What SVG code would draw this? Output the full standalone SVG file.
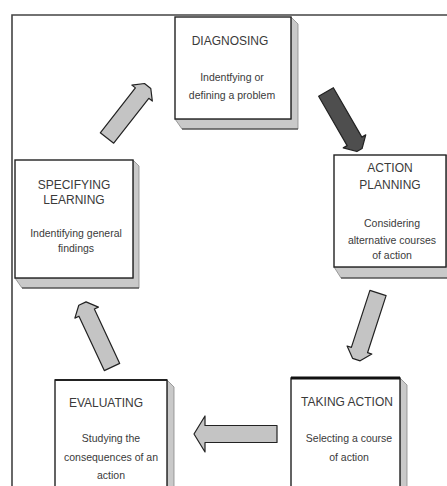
<svg xmlns="http://www.w3.org/2000/svg" width="447" height="486" viewBox="0 0 447 486">
<style>
.frame{fill:none;stroke:#444;stroke-width:1.6}
.box{fill:#fff;stroke:#222;stroke-width:1.4}
.shadow{fill:#c9c9c9;stroke:#888;stroke-width:0.8}
.title{font-family:"Liberation Sans",Arial,sans-serif;font-size:12px;fill:#3a3a3a;text-anchor:middle}
.desc{font-family:"Liberation Sans",Arial,sans-serif;font-size:10.5px;fill:#3a3a3a;text-anchor:middle}
.arrow{fill:#c4c4c4;stroke:#222;stroke-width:1.2;stroke-linejoin:round}
.arrow.dark{fill:#4e4e4e}
</style>
<rect width="447" height="486" fill="#fff"/>
<path class="frame" d="M12,486 L12,15 L447,15"/>

<g id="connectors">
  <path class="arrow" transform="translate(107,138) rotate(-52)" d="M0,-8.5 L57,-8.5 L57,-13 L66,-4 L66,4 L57,13 L57,8.5 L0,8.5 Z"/>
  <path class="arrow dark" transform="translate(326,92) rotate(60)" d="M0,-8.5 L57,-8.5 L57,-13 L67,-3 L67,3 L57,13 L57,8.5 L0,8.5 Z"/>
  <path class="arrow" transform="translate(378,293) rotate(108)" d="M0,-8.5 L60,-8.5 L60,-13 L70,-4 L70,4 L60,13 L60,8.5 L0,8.5 Z"/>
  <path class="arrow" transform="translate(277,434) rotate(180)" d="M0,-8.5 L72,-8.5 L72,-18 L83,0 L72,18 L72,8.5 L0,8.5 Z"/>
  <path class="arrow" transform="translate(112,367) rotate(-115)" d="M0,-8.5 L60,-8.5 L60,-13 L70,-4 L70,4 L60,13 L60,8.5 L0,8.5 Z"/>
</g>

<g id="diagnosing">
  <polygon class="shadow" points="291,17 298,24 298,129 182,129 175,119 291,119"/>
  <line x1="182" y1="129" x2="298" y2="129" stroke="#333" stroke-width="1"/>
  <rect class="box" x="175" y="17" width="116" height="102"/>
  <text class="title" x="230" y="45">DIAGNOSING</text>
  <text class="desc" x="232" y="81">Indentfying or</text>
  <text class="desc" x="232" y="99">defining a problem</text>
</g>

<g id="specifying-learning">
  <polygon class="shadow" points="133,160 139,166 139,288 22,288 15,278 133,278"/>
  <line x1="22" y1="288" x2="139" y2="288" stroke="#333" stroke-width="1"/>
  <rect class="box" x="15" y="160" width="118" height="118"/>
  <text class="title" x="74" y="189">SPECIFYING</text>
  <text class="title" x="74" y="204">LEARNING</text>
  <text class="desc" x="76" y="237">Indentifying general</text>
  <text class="desc" x="76" y="252">findings</text>
</g>

<g id="action-planning">
  <polygon class="shadow" points="446,155 452,161 452,278 341,278 334,267 446,267"/>
  <line x1="341" y1="278" x2="452" y2="278" stroke="#333" stroke-width="1"/>
  <rect class="box" x="334" y="155" width="112" height="112"/>
  <text class="title" x="390" y="172">ACTION</text>
  <text class="title" x="390" y="189">PLANNING</text>
  <text class="desc" x="392" y="227">Considering</text>
  <text class="desc" x="392" y="244">alternative courses</text>
  <text class="desc" x="392" y="259">of action</text>
</g>

<g id="evaluating">
  <polygon class="shadow" points="167,380 174,387 174,500 62,500 55,490 167,490"/>
  <rect class="box" x="55" y="380" width="112" height="110"/>
  <line x1="55" y1="380" x2="167" y2="380" stroke="#222" stroke-width="2.2"/>
  <text class="title" x="106" y="407">EVALUATING</text>
  <text class="desc" x="111" y="442">Studying the</text>
  <text class="desc" x="111" y="461">consequences of an</text>
  <text class="desc" x="111" y="479">action</text>
</g>

<g id="taking-action">
  <polygon class="shadow" points="400,378 407,385 407,500 298,500 291,490 400,490"/>
  <rect class="box" x="291" y="378" width="109" height="112"/>
  <line x1="291" y1="378" x2="400" y2="378" stroke="#111" stroke-width="3"/>
  <text class="title" x="347" y="406">TAKING ACTION</text>
  <text class="desc" x="349" y="442">Selecting a course</text>
  <text class="desc" x="349" y="461">of action</text>
</g>
</svg>
